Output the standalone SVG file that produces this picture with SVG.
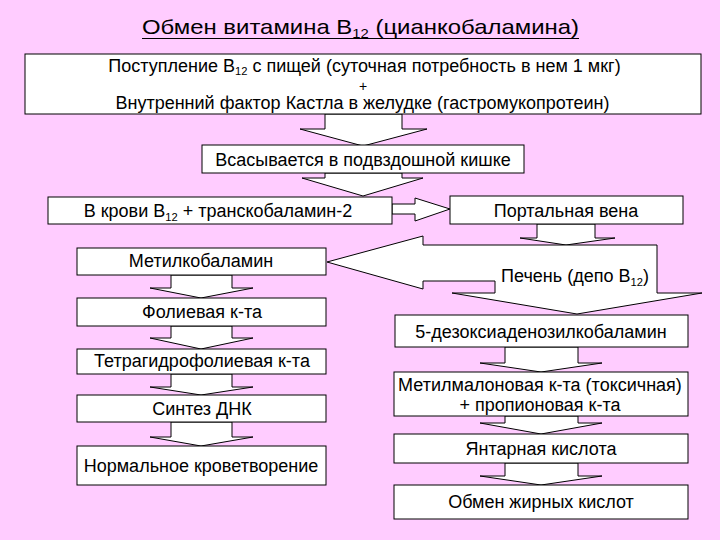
<svg xmlns="http://www.w3.org/2000/svg" width="720" height="540" viewBox="0 0 720 540">
<style>
.bg{fill:#FFCCFF}
.box{fill:#FFFFFF;stroke:#000;stroke-width:1}
.arr{fill:#FFFFFF;stroke:#000;stroke-width:1;stroke-linejoin:miter}
.t{font-family:"Liberation Sans",Arial,sans-serif;font-size:18px;fill:#000;text-anchor:middle}
.ttl{font-family:"Liberation Sans",Arial,sans-serif;font-size:21px;fill:#000;text-anchor:middle}
.sub{font-size:0.62em}
</style>
<rect class="bg" x="0" y="0" width="720" height="540"/>

<g id="title">
<text class="ttl" x="360.5" y="34" textLength="437" lengthAdjust="spacingAndGlyphs">Обмен витамина B<tspan class="sub" dy="4">12</tspan><tspan dy="-4"> (цианкобаламина)</tspan></text>
<line x1="142" y1="38.5" x2="579" y2="38.5" stroke="#000" stroke-width="1.2"/>
</g>

<g id="connectors">
<polygon class="arr" points="325,114 402,114 402,129 427,129 363,146 300,129 325,129"/>
<polygon class="arr" points="325,173 402,173 402,178 423,178 363,196 302,178 325,178"/>
<polygon class="arr" points="392,204 415,204 415,198 450,209 415,221 415,214 392,214"/>
<polygon class="arr" points="537,224 595,224 595,238 615,238 566,245 520,238 537,238"/>
<polygon class="arr" points="171,275 232,275 232,288 253,288 201,298 150,288 171,288"/>
<polygon class="arr" points="171,326 232,326 232,338 253,338 201,349 150,338 171,338"/>
<polygon class="arr" points="171,374 232,374 232,387 253,387 201,395 150,387 171,387"/>
<polygon class="arr" points="171,422 232,422 232,437 253,437 201,446 150,437 171,437"/>
<polygon class="arr" points="505,347 578,347 578,363 602,363 541,372 480,363 505,363"/>
<polygon class="arr" points="505,416 578,416 578,423 602,423 541,434 480,423 505,423"/>
<polygon class="arr" points="505,463 578,463 578,476 602,476 541,485 480,476 505,476"/>
</g>

<g id="n-liver">
<polygon class="arr" points="327,262 423,236 423,245 657,245 657,293 702,293 577,314 452,293 495,293 495,281 423,281 423,289"/>
<text class="t" x="575" y="282">Печень (депо B<tspan class="sub" dy="4">12</tspan><tspan dy="-4">)</tspan></text>
</g>

<g id="n-intake">
<rect class="box" x="25" y="54" width="676" height="60"/>
<text class="t" x="364.5" y="72">Поступление B<tspan class="sub" dy="3">12</tspan><tspan dy="-3"> с пищей (суточная потребность в нем 1 мкг)</tspan></text>
<text class="t" x="363" y="91" style="font-size:14px">+</text>
<text class="t" x="362.5" y="109">Внутренний фактор Кастла в желудке (гастромукопротеин)</text>
</g>

<g id="n-absorb">
<rect class="box" x="202" y="145" width="322" height="28"/>
<text class="t" x="363" y="166">Всасывается в подвздошной кишке</text>
</g>

<g id="n-blood">
<rect class="box" x="48" y="197" width="344" height="27"/>
<text class="t" x="218" y="217">В крови B<tspan class="sub" dy="4">12</tspan><tspan dy="-4"> + транскобаламин-2</tspan></text>
</g>

<g id="n-portal">
<rect class="box" x="450" y="196" width="233" height="28"/>
<text class="t" x="566" y="217">Портальная вена</text>
</g>

<g id="n-methyl">
<rect class="box" x="77" y="248" width="249" height="27"/>
<text class="t" x="201" y="267">Метилкобаламин</text>
</g>

<g id="n-folic">
<rect class="box" x="77" y="298" width="249" height="28"/>
<text class="t" x="202" y="318">Фолиевая к-та</text>
</g>

<g id="n-thf">
<rect class="box" x="77" y="349" width="249" height="25"/>
<text class="t" x="202" y="367">Тетрагидрофолиевая к-та</text>
</g>

<g id="n-dna">
<rect class="box" x="77" y="395" width="249" height="27"/>
<text class="t" x="202" y="415">Синтез ДНК</text>
</g>

<g id="n-hemato">
<rect class="box" x="77" y="446" width="249" height="39"/>
<text class="t" x="201" y="472">Нормальное кроветворение</text>
</g>

<g id="n-deoxy">
<rect class="box" x="395" y="315" width="293" height="32"/>
<text class="t" x="541" y="338">5-дезоксиаденозилкобаламин</text>
</g>

<g id="n-mma">
<rect class="box" x="394" y="372" width="294" height="44"/>
<text class="t" x="540" y="391">Метилмалоновая к-та (токсичная)</text>
<text class="t" x="540" y="411">+ пропионовая к-та</text>
</g>

<g id="n-succ">
<rect class="box" x="394" y="434" width="294" height="29"/>
<text class="t" x="541" y="455">Янтарная кислота</text>
</g>

<g id="n-fatty">
<rect class="box" x="394" y="485" width="294" height="34"/>
<text class="t" x="541" y="508">Обмен жирных кислот</text>
</g>
</svg>
